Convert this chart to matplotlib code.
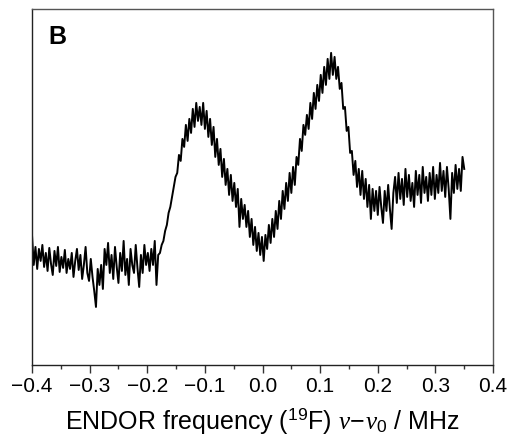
import numpy as np
import matplotlib
matplotlib.use("Agg")
import matplotlib.pyplot as plt

plt.rcParams['font.family'] = ['Liberation Sans', 'DejaVu Sans']
plt.rcParams['mathtext.fontset'] = 'custom'
plt.rcParams['mathtext.rm'] = 'Liberation Sans'
plt.rcParams['mathtext.it'] = 'Liberation Serif:italic'

# frequency axis: -0.400 ... 0.350 MHz in 0.003 MHz steps
freq_start = -0.400
freq_step = 0.003

# ENDOR intensity (arb. units)
intensity = [
    130, 100, 118, 96, 116, 104, 120, 98, 112, 94,
    117, 101, 90, 114, 99, 118, 93, 108, 97, 115,
    92, 106, 96, 112, 88, 104, 116, 95, 110, 86,
    100, 118, 92, 84, 106, 88, 74, 58, 96, 80,
    100, 76, 116, 100, 122, 92, 110, 86, 118, 98,
    82, 112, 94, 124, 90, 106, 80, 116, 100, 92,
    120, 97, 78, 110, 92, 120, 100, 112, 94, 116,
    100, 124, 80, 110, 112, 120, 124, 134, 140, 152,
    158, 168, 178, 188, 192, 210, 204, 226, 218, 240,
    224, 246, 232, 256, 238, 262, 244, 258, 240, 262,
    236, 254, 228, 246, 220, 238, 208, 226, 200, 216,
    188, 206, 180, 196, 170, 190, 164, 182, 158, 176,
    138, 166, 146, 160, 138, 154, 128, 146, 120, 138,
    114, 132, 110, 128, 104, 130, 116, 140, 122, 146,
    128, 154, 136, 164, 146, 174, 156, 182, 164, 192,
    172, 198, 180, 208, 200, 226, 214, 240, 230, 250,
    236, 262, 246, 272, 256, 280, 264, 290, 272, 298,
    280, 306, 286, 312, 290, 308, 286, 298, 276, 282,
    256, 258, 234, 238, 212, 214, 190, 204, 178, 196,
    170, 194, 166, 186, 158, 180, 146, 176, 154, 174,
    150, 178, 158, 142, 174, 154, 180, 156, 136, 172,
    188, 162, 192, 166, 186, 160, 196, 168, 190, 164,
    182, 158, 194, 170, 190, 162, 198, 172, 188, 164,
    192, 170, 198, 166, 190, 172, 202, 174, 194, 168,
    198, 176, 146, 192, 172, 200, 176, 196, 174, 208,
    196,
]

freq = freq_start + freq_step * np.arange(len(intensity))

fig = plt.figure(figsize=(5.12, 4.44), dpi=100)
ax = fig.add_axes([0.0625, 0.178, 0.9005, 0.802])
ax.plot(freq, intensity, color='black', lw=1.4)

ax.set_xlim(-0.4, 0.4)
ax.set_ylim(0, 356)
ax.set_xticks(np.arange(-0.4, 0.41, 0.1))
ax.set_xticks(np.arange(-0.35, 0.4, 0.1), minor=True)
ax.set_xticklabels(['\u22120.4', '\u22120.3', '\u22120.2', '\u22120.1', '0.0',
                    '0.1', '0.2', '0.3', '0.4'], fontsize=15)
ax.set_yticks([])
ax.tick_params(axis='x', which='major', direction='out', length=6, width=1, color='#333333', pad=3)
ax.tick_params(axis='x', which='minor', direction='out', length=3, width=1, color='#333333')
for s in ax.spines.values():
    s.set_color('#555555')
    s.set_linewidth(1)
ax.spines['left'].set_color('#222222')
ax.spines['bottom'].set_color('#222222')

ax.set_xlabel('ENDOR frequency ($^{19}$F) $\\nu\\!-\\!\\nu_0$ / MHz', fontsize=18, labelpad=7)
ax.text(0.035, 0.955, 'B', transform=ax.transAxes, fontsize=18, fontweight='bold',
        va='top', ha='left')

fig.savefig('out.png', dpi=100)
